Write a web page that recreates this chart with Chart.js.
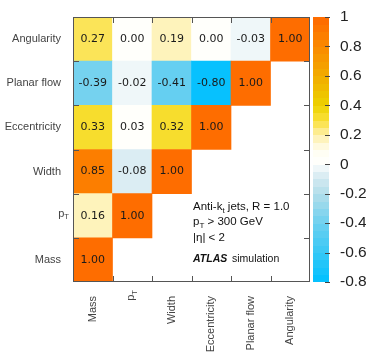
<!DOCTYPE html>
<html lang="en">
<head>
	<meta charset="UTF-8">
	<title>Jet substructure correlations</title>
	<script src="https://cdn.jsdelivr.net/npm/chart.js@4.4.1/dist/chart.umd.min.js"></script>
	<style>
		body { margin: 0; background: #fff; }
		canvas { display: block; }
	</style>
</head>
<body>
	<canvas id="myChart" width="366" height="354"></canvas>

	<script>
	// variables, bottom row to top row (same order along x)
	const varNames = ['Mass', 'pT', 'Width', 'Eccentricity', 'Planar flow', 'Angularity']

	// correlation coefficients per row, columns starting at Mass
	const massRow = [1.00]
	const ptRow = [0.16, 1.00]
	const widthRow = [0.85, -0.08, 1.00]
	const eccRow = [0.33, 0.03, 0.32, 1.00]
	const planarRow = [-0.39, -0.02, -0.41, -0.80, 1.00]
	const angRow = [0.27, 0.00, 0.19, 0.00, -0.03, 1.00]
	const rows = [massRow, ptRow, widthRow, eccRow, planarRow, angRow]

	// colour scale
	const zMin = -0.8
	const zMax = 1
	const zStep = 0.05
	const zTicks = [1, 0.8, 0.6, 0.4, 0.2, 0, -0.2, -0.4, -0.6, -0.8]

	const stops = [
		[-0.8, [0, 192, 255]],
		[-0.6, [55, 200, 246]],
		[-0.4, [108, 208, 240]],
		[-0.2, [178, 222, 234]],
		[-0.1, [210, 232, 240]],
		[-0.03, [236, 245, 248]],
		[0, [255, 255, 255]],
		[0.1, [255, 253, 240]],
		[0.2, [254, 240, 170]],
		[0.3, [250, 224, 60]],
		[0.4, [236, 210, 0]],
		[0.6, [242, 172, 0]],
		[0.8, [250, 138, 0]],
		[1.0, [255, 105, 0]]
	]
	function cmap(v) {
		if (v <= stops[0][0]) return 'rgb(' + stops[0][1].join(',') + ')'
		for (let k = 1; k < stops.length; k++) {
			if (v <= stops[k][0]) {
				let a = stops[k - 1], b = stops[k]
				let t = (v - a[0]) / (b[0] - a[0])
				let c = a[1].map((x, n) => Math.round(x + (b[1][n] - x) * t))
				return 'rgb(' + c.join(',') + ')'
			}
		}
		return 'rgb(' + stops[stops.length - 1][1].join(',') + ')'
	}
	// ROOT style: colour of the bin the value falls into
	const nBins = Math.round((zMax - zMin) / zStep)
	function binColor(v) {
		let b = Math.floor((v - zMin) / zStep + 1e-9)
		if (b < 0) b = 0
		if (b > nBins - 1) b = nBins - 1
		return cmap(zMin + (b + 0.5) * zStep)
	}

	Chart.defaults.font.family = 'Liberation Sans'

	const datasets = rows.map((vals, j) => ({
		label: varNames[j],
		data: varNames.map((_, i) => i < vals.length ? [j, j + 1] : null),
		backgroundColor: varNames.map((_, i) => i < vals.length ? binColor(vals[i]) : 'transparent'),
		borderWidth: 0,
		values: vals
	}))

	function subText(ctx, x, y, main, sub, rest, size) {
		ctx.font = size + 'px Liberation Sans'
		ctx.fillText(main, x, y)
		x += ctx.measureText(main).width
		ctx.font = (size * 0.7) + 'px Liberation Sans'
		ctx.fillText(sub, x, y + size * 0.3)
		x += ctx.measureText(sub).width
		if (rest) {
			ctx.font = size + 'px Liberation Sans'
			ctx.fillText(rest, x, y)
		}
	}

	const extras = {
		id: 'extras',
		afterDatasetsDraw(chart) {
			const ctx = chart.ctx
			const area = chart.chartArea
			const xs = chart.scales.x
			const ys = chart.scales.y
			const zs = chart.scales.z
			ctx.save()

			// numbers in the cells
			ctx.font = '11px DejaVu Sans'
			ctx.fillStyle = '#1a1a1a'
			ctx.textAlign = 'center'
			ctx.textBaseline = 'middle'
			chart.data.datasets.forEach((ds, j) => {
				const meta = chart.getDatasetMeta(j)
				meta.data.forEach((el, i) => {
					if (i >= ds.values.length) return
					ctx.fillText(ds.values[i].toFixed(2), el.x, (el.y + el.base) / 2)
				})
			})

			// frame and tick marks
			ctx.strokeStyle = '#555'
			ctx.lineWidth = 1
			ctx.strokeRect(area.left + 0.5, area.top + 0.5, area.width - 1, area.height - 1)
			ctx.beginPath()
			for (let i = 1; i < varNames.length; i++) {
				let bx = Math.round((xs.getPixelForValue(i - 1) + xs.getPixelForValue(i)) / 2) + 0.5
				ctx.moveTo(bx, area.top); ctx.lineTo(bx, area.top + 6)
				ctx.moveTo(bx, area.bottom); ctx.lineTo(bx, area.bottom - 6)
				let by = Math.round(ys.getPixelForValue(i)) + 0.5
				ctx.moveTo(area.left, by); ctx.lineTo(area.left + 6, by)
				ctx.moveTo(area.right, by); ctx.lineTo(area.right - 6, by)
			}
			ctx.stroke()

			// colour bar
			const barL = area.right + 3
			const barR = area.right + 19
			for (let b = 0; b < nBins; b++) {
				let v = zMin + b * zStep
				let y0 = zs.getPixelForValue(v)
				let y1 = zs.getPixelForValue(v + zStep)
				ctx.fillStyle = cmap(v + zStep / 2)
				ctx.fillRect(barL, Math.floor(y1), barR - barL, Math.ceil(y0) - Math.floor(y1))
			}
			ctx.strokeStyle = '#444'
			ctx.beginPath()
			zTicks.forEach(v => {
				let y = Math.round(zs.getPixelForValue(v)) + 0.5
				ctx.moveTo(barR - 4, y); ctx.lineTo(barR + 1, y)
			})
			ctx.stroke()

			// pT labels with subscript
			ctx.fillStyle = '#444'
			ctx.textAlign = 'left'
			ctx.textBaseline = 'middle'
			ctx.font = '11px Liberation Sans'
			let pw = ctx.measureText('p').width
			ctx.font = '7.7px Liberation Sans'
			let tw = ctx.measureText('T').width
			let yPt = ys.getPixelForValue(1.5)
			subText(ctx, area.left - 4 - pw - tw, yPt - 2, 'p', 'T', '', 11)
			ctx.save()
			ctx.translate(xs.getPixelForValue(1) - 1, area.bottom + 8)
			ctx.rotate(-Math.PI / 2)
			subText(ctx, -(pw + tw), 0, 'p', 'T', '', 11)
			ctx.restore()

			// annotation
			ctx.fillStyle = '#111'
			ctx.textBaseline = 'alphabetic'
			subText(ctx, 193, 210, 'Anti-k', 't', ' jets, R = 1.0', 11.5)
			subText(ctx, 193, 225, 'p', 'T', ' > 300 GeV', 11.5)
			ctx.font = '11.5px Liberation Sans'
			ctx.fillText('|\u03b7| < 2', 193, 241)
			ctx.font = 'italic bold 10.5px Liberation Sans'
			ctx.fillText('ATLAS', 193, 262)
			ctx.font = '10.5px Liberation Sans'
			ctx.fillText('simulation', 232, 262)

			ctx.restore()
		}
	}

	function noPad(s) {
		s.paddingTop = 0
		s.paddingBottom = 0
		s.paddingLeft = 0
		s.paddingRight = 0
	}

	var ctx = document.getElementById('myChart').getContext('2d')
	var chart = new Chart(ctx, {
		type: 'bar',
		data: {
			labels: varNames,
			datasets: datasets
		},
		options: {
			responsive: false,
			devicePixelRatio: 1,
			animation: false,
			grouped: false,
			barPercentage: 1,
			categoryPercentage: 1,
			layout: { padding: { top: 17, left: 0, right: 0, bottom: 0 } },
			plugins: {
				legend: { display: false },
				tooltip: { enabled: false }
			},
			scales: {
				x: {
					grid: { display: false },
					border: { display: false },
					ticks: {
						minRotation: 90,
						maxRotation: 90,
						padding: 6,
						color: '#444',
						font: { size: 11 },
						callback: (v, i) => varNames[i] === 'pT' ? '' : varNames[i]
					},
					afterFit: s => { s.height = 72; noPad(s) }
				},
				y: {
					min: 0,
					max: 6,
					grid: { display: false },
					border: { display: false },
					afterBuildTicks: s => { s.ticks = varNames.map((_, j) => ({ value: j + 0.5 })) },
					ticks: {
						padding: 4,
						color: '#444',
						font: { size: 11 },
						callback: v => {
							let n = varNames[Math.floor(v)]
							return n === 'pT' ? '' : n
						}
					},
					afterFit: s => { s.width = 73; noPad(s) }
				},
				z: {
					type: 'linear',
					position: 'right',
					min: zMin,
					max: zMax,
					grid: { display: false, drawOnChartArea: false },
					border: { display: false },
					afterBuildTicks: s => { s.ticks = zTicks.map(v => ({ value: v })) },
					ticks: {
						padding: 22,
						color: '#222',
						font: { size: 15.5 },
						callback: v => String(Math.round(v * 10) / 10)
					},
					afterFit: s => { s.width = 56; noPad(s) }
				}
			}
		},
		plugins: [extras]
	})
	</script>
</body>
</html>
